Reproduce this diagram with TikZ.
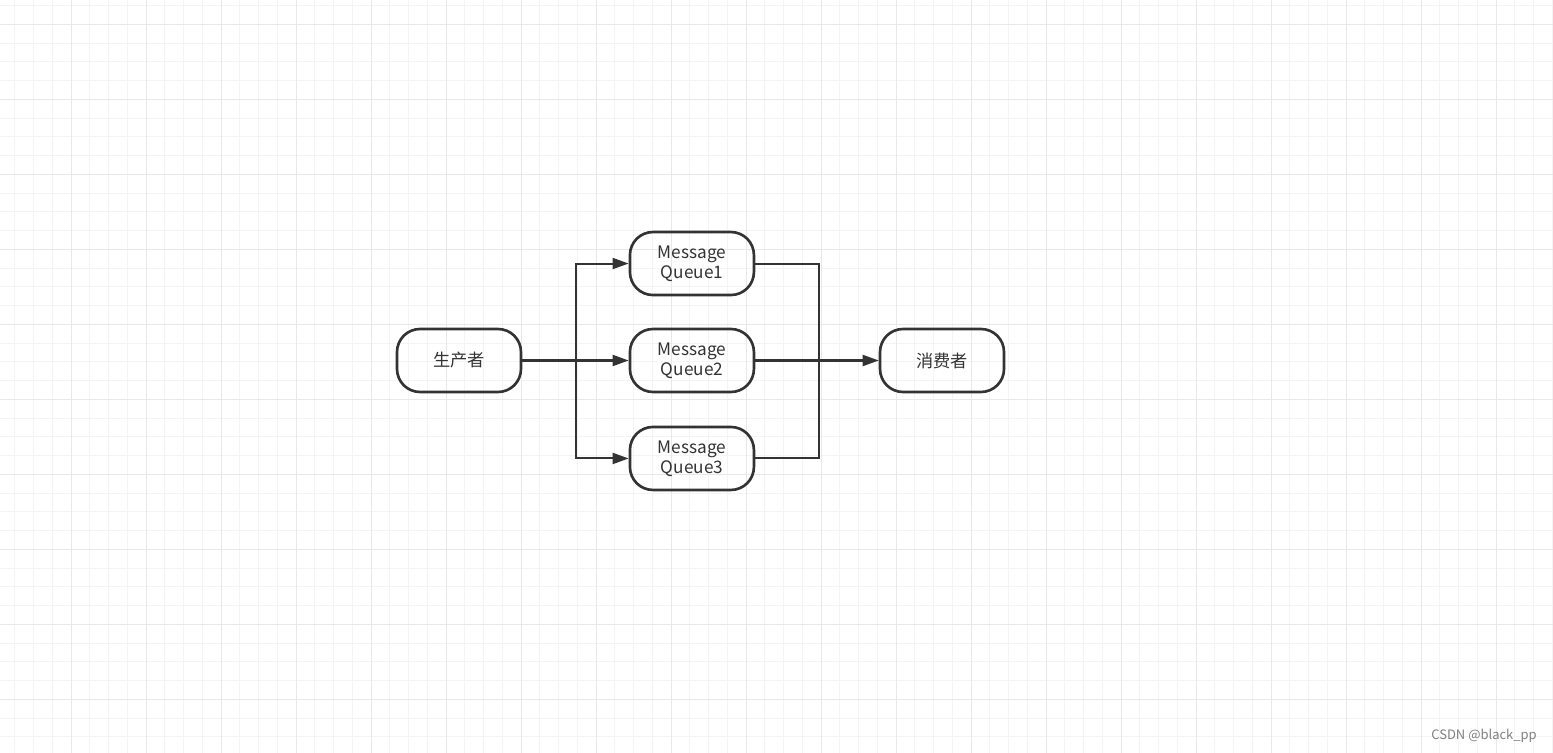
\documentclass[tikz,border=0pt]{standalone}
\usepackage{fontspec}
\setmainfont{Noto Sans CJK SC}
\usetikzlibrary{positioning,arrows.meta}
\definecolor{ink}{RGB}{51,51,51}
\definecolor{gridminor}{RGB}{244,244,244}
\definecolor{gridmajor}{RGB}{232,232,232}

\tikzset{
  box/.style={draw=ink, line width=1.5pt, rounded corners=0.46cm,
    minimum width=2.48cm, minimum height=1.26cm, inner sep=0pt,
    align=center, text=ink, font=\fontsize{9.8}{11.4}\selectfont},
  link/.style={draw=ink, line width=1.15pt, -{Triangle[length=0.32cm,width=0.22cm]}},
  wire/.style={draw=ink, line width=1.15pt}
}

\begin{document}
\begin{tikzpicture}[x=0.02cm, y=-0.02cm]

% --- page and grid ---
\fill[white] (0,0) rectangle (1553,753);
\useasboundingbox (0,0) rectangle (1553,753);
\foreach \gx in {14.75,33.5,...,1553} \draw[gridminor, line width=0.5pt] (\gx,0) -- (\gx,753);
\foreach \gy in {5.55,24.3,...,753} \draw[gridminor, line width=0.5pt] (0,\gy) -- (1553,\gy);
\foreach \gx in {-4,71,...,1553} \draw[gridmajor, line width=0.5pt] (\gx,0) -- (\gx,753);
\foreach \gy in {24.3,99.3,...,753} \draw[gridmajor, line width=0.5pt] (0,\gy) -- (1553,\gy);

% --- producer, queues, consumer ---
\node[box] (prod) at (459,360.5) {生产者};
\node[box, right=2.127cm of prod] (q2) {Message\\Queue2};
\node[box, above=0.627cm of q2] (q1) {Message\\Queue1};
\node[box, below=0.647cm of q2] (q3) {Message\\Queue3};
\node[box, right=2.47cm of q2] (cons) {消费者};

% split and merge points
\coordinate (split) at ([xshift=1.08cm]prod.east);
\coordinate (merge) at ([xshift=1.28cm]q2.east);

% --- connectors ---
\draw[link] (prod.east) -- (q2.west);
\draw[link] (split) |- (q1.west);
\draw[link] (split) |- (q3.west);
\draw[wire] (q1.east) -| (merge);
\draw[wire] (q3.east) -| (merge);
\draw[link] (q2.east) -- (cons.west);

% watermark
\node[anchor=east, text=gray, font=\fontsize{7.4}{9}\selectfont] (mark) at (1543,736) {CSDN @black\_pp};

\end{tikzpicture}
\end{document}
